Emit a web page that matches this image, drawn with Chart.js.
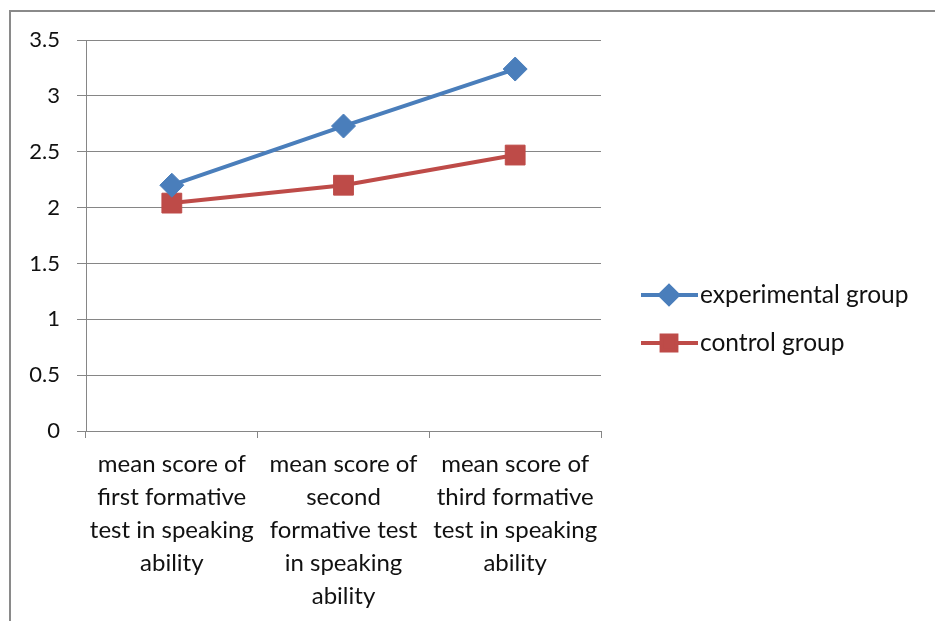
<!DOCTYPE html>
<html>
<head>
<meta charset="utf-8">
<script src="https://cdn.jsdelivr.net/npm/chart.js@4/dist/chart.umd.min.js"></script>
<style>
  html, body { margin: 0; padding: 0; background: #fff; }
  #wrap { position: relative; width: 935px; height: 621px; overflow: hidden; }
  #frame { position: absolute; left: 9px; top: 10px; width: 940px; height: 640px;
           border: 2px solid #8a8a8a; pointer-events: none; }
  canvas { position: absolute; left: 0; top: 0; }
</style>
</head>
<body>
<div id="wrap">
  <canvas id="chart" width="935" height="621"></canvas>
  <div id="frame"></div>
</div>
<script>
// categories
const categories = [
  ['mean score of', 'first formative', 'test in speaking', 'ability'],
  ['mean score of', 'second', 'formative test', 'in speaking', 'ability'],
  ['mean score of', 'third formative', 'test in speaking', 'ability']
];
// series
const experimental = [2.2, 2.73, 3.24];
const control = [2.04, 2.2, 2.47];
const seriesNames = ['experimental group', 'control group'];
// y ticks
const yMin = 0, yMax = 3.5, yStep = 0.5;

const FONT = 'Lato, "Open Sans", sans-serif';
const BLUE = '#4a7ebb';
const RED = '#be4b48';
const TEXT = '#111';

// legend drawn on the right side
const sideLegend = {
  id: 'sideLegend',
  afterDraw(chart) {
    const ctx = chart.ctx;
    const items = chart.data.datasets;
    ctx.save();
    items.forEach((ds, i) => {
      const y = 295 + i * 48;
      ctx.strokeStyle = ds.borderColor;
      ctx.lineWidth = ds.borderWidth;
      ctx.beginPath();
      ctx.moveTo(641, y);
      ctx.lineTo(698, y);
      ctx.stroke();
      ctx.fillStyle = ds.pointBackgroundColor;
      Chart.helpers.drawPoint(ctx, {
        pointStyle: ds.pointStyle,
        radius: ds.pointRadius * 0.75,
        borderWidth: 1,
        rotation: 0
      }, 669, y);
      ctx.fillStyle = TEXT;
      ctx.font = '24.5px ' + FONT;
      ctx.textBaseline = 'middle';
      ctx.textAlign = 'left';
      ctx.fillText(ds.label, 700, y);
    });
    ctx.restore();
  }
};

new Chart(document.getElementById('chart'), {
  type: 'line',
  data: {
    labels: categories,
    datasets: [
      {
        label: seriesNames[0], data: experimental,
        borderColor: BLUE, backgroundColor: BLUE,
        pointBackgroundColor: BLUE, pointBorderColor: BLUE,
        borderWidth: 4, pointStyle: 'rectRot', pointRadius: 12, pointBorderWidth: 1
      },
      {
        label: seriesNames[1], data: control,
        borderColor: RED, backgroundColor: RED,
        pointBackgroundColor: RED, pointBorderColor: RED,
        borderWidth: 4, pointStyle: 'rect', pointRadius: 14, pointBorderWidth: 1
      }
    ]
  },
  options: {
    responsive: false,
    animation: false,
    layout: { padding: { top: 40, right: 334, left: 0, bottom: 0 } },
    plugins: { legend: { display: false }, tooltip: { enabled: false } },
    scales: {
      x: {
        offset: true,
        grid: { offset: true, drawOnChartArea: false, drawTicks: true, tickLength: 7, color: '#868686' },
        border: { color: '#868686', width: 1 },
        ticks: { font: { family: FONT, size: 24, lineHeight: 1.375 }, color: TEXT, padding: 10, maxRotation: 0, autoSkip: false },
        afterFit(s) { s.height = 190; }
      },
      y: {
        min: yMin, max: yMax,
        grid: { color: '#868686', tickLength: 9 },
        border: { color: '#868686', width: 1 },
        ticks: { stepSize: yStep, font: { family: FONT, size: 22 }, color: TEXT, padding: 17,
                 callback: v => String(+v.toFixed(1)) },
        afterFit(s) { s.width = 86; }
      }
    }
  },
  plugins: [sideLegend]
});
</script>
</body>
</html>
